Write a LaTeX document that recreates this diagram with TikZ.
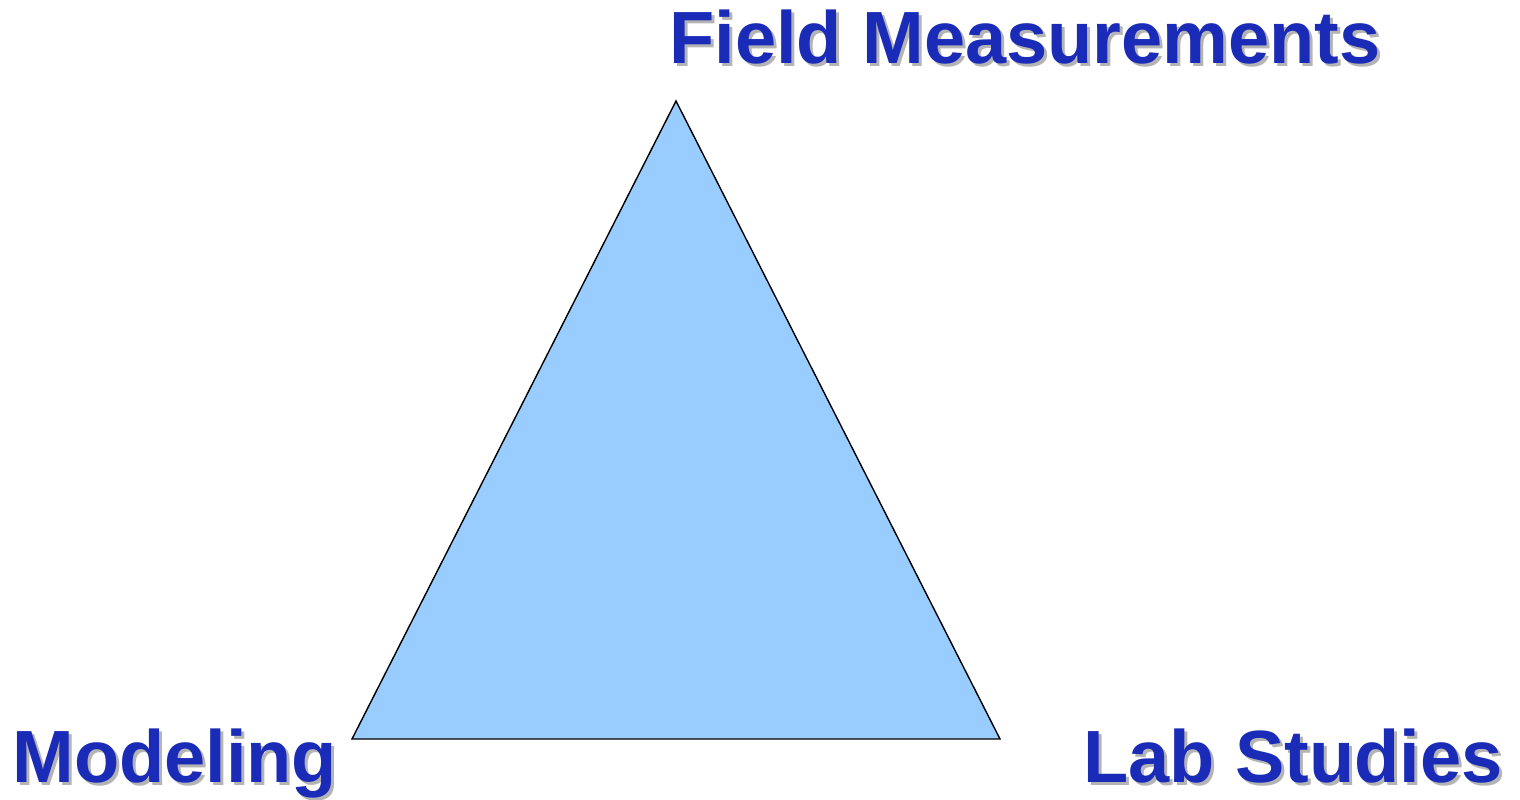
\documentclass[tikz,border=0pt]{standalone}
\usepackage{fontspec}
\setmainfont{Liberation Sans}
\usetikzlibrary{positioning}
\definecolor{labelblue}{HTML}{1A2BB8}
\definecolor{labelshade}{HTML}{B4B4B4}
\definecolor{trifill}{HTML}{99CCFF}

\begin{document}
\begin{tikzpicture}[
  x=0.5pt, y=-0.5pt,
  corner/.style={inner sep=0pt, anchor=base west,
    font=\fontsize{37}{44}\selectfont\bfseries, text=labelblue},
  cornershade/.style={corner, text=labelshade},
  tri/.style={draw=black, line width=0.7pt, fill=trifill, line join=miter}
]
\useasboundingbox (0,0) rectangle (1520,799);
\coordinate (apex)  at (676,101);
\coordinate (left)  at (352,739);
\coordinate (right) at (1000,739);
\draw[tri] (apex) -- (left) -- (right) -- cycle;
% labels with their grey shadow underneath
\node[cornershade] (fieldsh) at (672,66)  {Field Measurements};
\node[corner]      (field)   at (669,63)  {Field Measurements};
\node[cornershade] (modsh)   at (15,785)  {Modeling};
\node[corner]      (mod)     at (12,782)  {Modeling};
\node[cornershade] (labsh)   at (1086,785) {Lab Studies};
\node[corner]      (lab)     at (1083,782) {Lab Studies};
\end{tikzpicture}
\end{document}
